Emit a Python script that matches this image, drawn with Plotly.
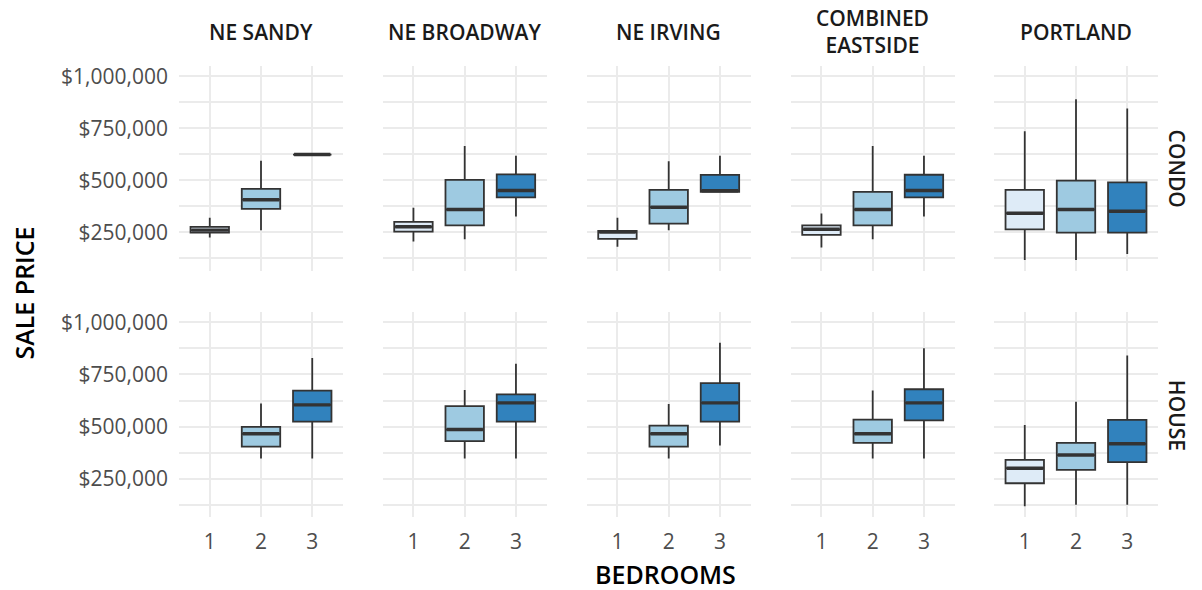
import plotly.graph_objects as go

neighborhoods = ["NE SANDY", "NE BROADWAY", "NE IRVING", "COMBINED<br>EASTSIDE", "PORTLAND"]
property_types = ["CONDO", "HOUSE"]
bedrooms = [1, 2, 3]
bed_colors = ["#DEEBF7", "#9ECAE1", "#3182BD"]

# Condo stats per neighborhood, per bedroom (1, 2, 3)
condo_low = [[225000, 260000, 624000], [206000, 217000, 326000], [181000, 260000, 445000],
             [178000, 217000, 326000], [118000, 118000, 146000]]
condo_q1 = [[249000, 363000, 624000], [254000, 284000, 418000], [219000, 292000, 445000],
            [238000, 284000, 418000], [265000, 249000, 249000]]
condo_med = [[261000, 407000, 624000], [277000, 360000, 451000], [252000, 371000, 450000],
             [265000, 360000, 451000], [342000, 360000, 352000]]
condo_q3 = [[277000, 459000, 624000], [301000, 502000, 529000], [257000, 454000, 526000],
            [284000, 445000, 527000], [454000, 499000, 490000]]
condo_high = [[320000, 594000, 624000], [368000, 665000, 618000], [320000, 592000, 618000],
              [341000, 665000, 618000], [736000, 889000, 845000]]

# House stats per neighborhood, per bedroom (None = no data)
house_low = [[None, 348000, 348000], [None, 348000, 348000], [None, 348000, 410000],
             [None, 348000, 348000], [119000, 126000, 126000]]
house_q1 = [[None, 404000, 524000], [None, 431000, 524000], [None, 404000, 524000],
            [None, 422000, 530000], [229000, 293000, 330000]]
house_med = [[None, 466000, 604000], [None, 486000, 614000], [None, 466000, 614000],
             [None, 466000, 614000], [301000, 364000, 418000]]
house_q3 = [[None, 499000, 672000], [None, 598000, 654000], [None, 505000, 708000],
            [None, 534000, 679000], [341000, 422000, 532000]]
house_high = [[None, 611000, 828000], [None, 675000, 801000], [None, 609000, 902000],
              [None, 673000, 875000], [508000, 619000, 840000]]

y_tickvals = [250000, 500000, 750000, 1000000]
y_ticktext = ["$250,000", "$500,000", "$750,000", "$1,000,000"]

W, H = 1202, 590
panel_x0 = [179, 382.7, 586.7, 790.7, 994]
panel_w = 164
row_y = [(62, 268), (310, 516.7)]
BOX_W = 0.75
FONT = "Open Sans"
TICK_FONT = dict(family=FONT, size=21, color="#4D4D4D", weight=500)
STRIP_FONT = dict(family=FONT, size=21, color="#1A1A1A", weight=600)
TITLE_FONT = dict(family=FONT, size=25, color="#000000", weight=600)

fig = go.Figure()
stats = {
    "CONDO": (condo_low, condo_q1, condo_med, condo_q3, condo_high),
    "HOUSE": (house_low, house_q1, house_med, house_q3, house_high),
}

layout_axes = {}
for r, ptype in enumerate(property_types):
    low, q1, med, q3, high = stats[ptype]
    for c, nb in enumerate(neighborhoods):
        idx = r * 5 + c + 1
        xa = "x" if idx == 1 else f"x{idx}"
        ya = "y" if idx == 1 else f"y{idx}"
        for b, bed in enumerate(bedrooms):
            if med[c][b] is None:
                continue
            fig.add_trace(go.Box(
                x=[bed], q1=[q1[c][b]], median=[med[c][b]], q3=[q3[c][b]],
                lowerfence=[low[c][b]], upperfence=[high[c][b]],
                fillcolor=bed_colors[b], line=dict(color="#333333", width=1.8),
                whiskerwidth=0, width=BOX_W, boxpoints=False, showlegend=False,
                xaxis=xa, yaxis=ya, hoverinfo="skip",
            ))
            # thicker median line (ggplot style)
            fig.add_trace(go.Scatter(
                x=[bed - BOX_W / 2 + 0.02, bed + BOX_W / 2 - 0.02], y=[med[c][b], med[c][b]],
                mode="lines", line=dict(color="#333333", width=3.4), showlegend=False,
                xaxis=xa, yaxis=ya, hoverinfo="skip",
            ))
        x0 = panel_x0[c]
        y0, y1 = row_y[r]
        xkey = "xaxis" if idx == 1 else f"xaxis{idx}"
        ykey = "yaxis" if idx == 1 else f"yaxis{idx}"
        layout_axes[xkey] = dict(
            domain=[x0 / W, (x0 + panel_w) / W], anchor=ya, range=[0.4, 3.6],
            tickvals=bedrooms, ticktext=[str(v) for v in bedrooms],
            showticklabels=(r == 1), showgrid=True, gridcolor="#EBEBEB", gridwidth=1.6,
            zeroline=False, showline=False, ticks="",
            tickfont=TICK_FONT, ticklabelstandoff=10,
        )
        layout_axes[ykey] = dict(
            domain=[1 - y1 / H, 1 - y0 / H], anchor=xa, range=[66000, 1047000],
            tickvals=y_tickvals, ticktext=y_ticktext, showticklabels=(c == 0),
            showgrid=True, gridcolor="#EBEBEB", gridwidth=1.6, zeroline=False,
            showline=False, ticks="",
            minor=dict(tickvals=[125000, 375000, 625000, 875000], showgrid=True,
                       gridcolor="#EBEBEB", gridwidth=1.6),
            tickfont=TICK_FONT, ticklabelstandoff=10,
        )

fig.update_layout(**layout_axes)

annotations = []
for c, nb in enumerate(neighborhoods):
    annotations.append(dict(
        text=nb, x=(panel_x0[c] + panel_w / 2) / W, y=1 - 27 / H, xref="paper", yref="paper",
        showarrow=False, xanchor="center", yanchor="middle", font=STRIP_FONT,
    ))
for r, ptype in enumerate(property_types):
    y0, y1 = row_y[r]
    annotations.append(dict(
        text=ptype, x=1177 / W, y=1 - (y0 + y1) / 2 / H, xref="paper", yref="paper",
        showarrow=False, xanchor="center", yanchor="middle", textangle=90, font=STRIP_FONT,
    ))
annotations.append(dict(
    text="SALE PRICE", x=24 / W, y=1 - 291 / H, xref="paper", yref="paper",
    showarrow=False, xanchor="center", yanchor="middle", textangle=-90, font=TITLE_FONT,
))
annotations.append(dict(
    text="BEDROOMS", x=666 / W, y=1 - 574 / H, xref="paper", yref="paper",
    showarrow=False, xanchor="center", yanchor="middle", font=TITLE_FONT,
))

fig.update_layout(
    width=W, height=H, margin=dict(l=0, r=0, t=0, b=0),
    paper_bgcolor="white", plot_bgcolor="white", annotations=annotations,
    showlegend=False,
)

fig.write_html(
    "out.html",
    config={"displayModeBar": False},
    post_script="document.body.style.margin='0';document.body.style.overflow='hidden';",
)
